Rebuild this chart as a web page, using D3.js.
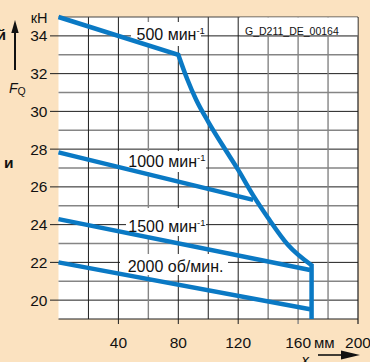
<!DOCTYPE html>
<html><head><meta charset="utf-8">
<script src="https://cdn.jsdelivr.net/npm/d3@7"></script>
<style>
html,body{margin:0;padding:0;background:#FBE2C0;overflow:hidden}
svg{display:block;font-family:"Liberation Sans",Arial,sans-serif}
</style></head>
<body><svg id="c" width="370" height="362"></svg>
<script>
// ---- data ----
const xTicks = [40, 80, 120, 160, 200];
const yTicks = [20, 22, 24, 26, 28, 30, 32, 34];
const seriesNames = ["500 мин", "1000 мин", "1500 мин", "2000 об/мин."];
const s500top = [[0,35],[80,33]];
const s500curve = [[80,33],[86,31.7],[92,30.6],[100,29.45],[110,28.15],[120,26.9],[130,25.55],[140,24.35],[153,22.95],[169,21.85]];
const s500drop = [[169,21.85],[169,19]];
const s1000 = [[0,27.83],[130,25.31]];
const s1500 = [[0,24.29],[168,21.6]];
const s2000 = [[0,22.0],[168,19.52]];
const chartId = "G_D211_DE_00164";

const svg = d3.select("#c");
const x = d3.scaleLinear([0,200],[58.5,358]);
const y = d3.scaleLinear([19,35],[319,17]);
const blue = "#0a79c4";

// plot background
svg.append("rect").attr("x",x(0)).attr("y",y(35)).attr("width",x(200)-x(0)).attr("height",y(19)-y(35)).attr("fill","#fff");

// grid
const darkV = new Set([20,40,80,100,120]);
const g = svg.append("g");
d3.range(20,35,1).forEach(v=>{
  const even = v%2===0;
  g.append("line").attr("x1", even? 50 : x(0)).attr("x2",x(200)).attr("y1",y(v)).attr("y2",y(v))
   .attr("stroke", even? "#1e1e1e":"#858585").attr("stroke-width", even?1:1.4);
});
d3.range(20,200,20).forEach(v=>{
  const dark = darkV.has(v);
  g.append("line").attr("x1",x(v)).attr("x2",x(v)).attr("y1",y(35)).attr("y2", xTicks.includes(v)? 324 : y(19))
   .attr("stroke", dark? "#1e1e1e":"#858585").attr("stroke-width", dark?1:1.4);
});
// borders
g.append("line").attr("x1",x(0)).attr("x2",x(200)).attr("y1",y(35)).attr("y2",y(35)).attr("stroke","#444");
g.append("line").attr("x1",x(0)).attr("x2",x(200)).attr("y1",y(19)).attr("y2",y(19)).attr("stroke","#1e1e1e").attr("stroke-width",1.2);
g.append("line").attr("x1",x(200)).attr("x2",x(200)).attr("y1",y(35)).attr("y2",324).attr("stroke","#1e1e1e").attr("stroke-width",1.2);

// white label boxes
const boxes = [[131,22,70,24],[126,151,80,21],[126,208,80,28],[120,254,108,21],[240,17.5,117.5,17.5]];
boxes.forEach(b=>svg.append("rect").attr("x",b[0]).attr("y",b[1]).attr("width",b[2]).attr("height",b[3]).attr("fill","#fff"));
svg.append("line").attr("x1",240).attr("x2",x(200)).attr("y1",y(34)).attr("y2",y(34)).attr("stroke","#858585").attr("stroke-width",1.4);

// curves
const line = d3.line().x(d=>x(d[0])).y(d=>y(d[1]));
const smooth = d3.line().x(d=>x(d[0])).y(d=>y(d[1])).curve(d3.curveMonotoneX);
const p500 = line(s500top) + smooth(s500curve).replace(/^M[^CL]*/, "L" + x(80) + "," + y(33)) + line(s500drop).replace(/^M/, "L");
svg.append("path").attr("d",p500).attr("fill","none").attr("stroke",blue)
  .attr("stroke-width",4.5).attr("stroke-linejoin","miter");
[s1000,s1500,s2000].forEach(s=>{
  svg.append("path").attr("d",line(s)).attr("fill","none").attr("stroke",blue)
    .attr("stroke-width",4.5);
});

// series labels
const labelPos = [[136.5,40],[128.3,166.7],[128.3,231.7],[127.7,271.7]];
seriesNames.forEach((n,i)=>{
  const t = svg.append("text").attr("x",labelPos[i][0]).attr("y",labelPos[i][1])
    .attr("font-size",16).attr("fill","#111").text(n);
  if(i<3) t.append("tspan").attr("font-size",9.5).attr("dy",-6).text("-1");
});
svg.append("text").attr("x",245).attr("y",35.3).attr("font-size",10.5).attr("fill","#111").text(chartId);

// axis labels
svg.selectAll(".yt").data(yTicks).join("text").attr("x",47.5).attr("y",d=>y(d)+5.5)
  .attr("text-anchor","end").attr("font-size",15.5).attr("fill","#111").text(d=>d);
svg.selectAll(".xt").data(xTicks).join("text").attr("x",d=>x(d)).attr("y",348)
  .attr("text-anchor","middle").attr("font-size",15.5).attr("fill","#111").text(d=>d);
svg.append("text").attr("x",314).attr("y",348).attr("font-size",15).attr("fill","#111").text("мм");
svg.append("text").attr("x",47.5).attr("y",22.7).attr("text-anchor","end").attr("font-size",14.5).attr("fill","#111").text("кН");

// F_Q
const fq = svg.append("text").attr("x",9).attr("y",92.7).attr("font-size",14).attr("font-style","italic").attr("fill","#111").text("F");
fq.append("tspan").attr("font-size",10.5).attr("font-style","normal").attr("dy",2.3).text("Q");

// up arrow
svg.append("line").attr("x1",15).attr("x2",15).attr("y1",70).attr("y2",30).attr("stroke","#111").attr("stroke-width",2);
svg.append("path").attr("d","M15,20 L11.3,33 L18.7,33 Z").attr("fill","#111");
// x arrow
svg.append("line").attr("x1",318).attr("x2",345).attr("y1",355).attr("y2",355).attr("stroke","#111").attr("stroke-width",1.6);
svg.append("path").attr("d","M360,355 L341,350.5 L341,359.5 Z").attr("fill","#111");
svg.append("text").attr("x",301.5).attr("y",364.5).attr("font-size",15).attr("font-style","italic").attr("fill","#111").text("x");

// cut-off left column text (cut in the reference as well)
svg.append("text").attr("x",6).attr("y",40).attr("text-anchor","end").attr("font-size",15.5).attr("font-weight","bold").attr("fill","#111").text("й");
svg.append("text").attr("x",13.5).attr("y",168).attr("text-anchor","end").attr("font-size",15.5).attr("font-weight","bold").attr("fill","#111").text("и");
</script></body></html>
